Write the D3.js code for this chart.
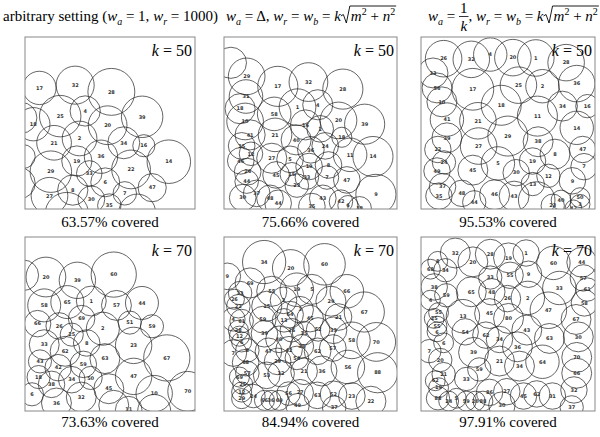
<!DOCTYPE html>
<html>
<head>
<meta charset="utf-8">
<script src="https://cdn.jsdelivr.net/npm/d3@7"></script>
<style>
  body { margin: 0; background: #fff; }
</style>
</head>
<body>
<svg id="fig" width="600" height="437"></svg>
<script>
// ---- data: [x, y, r, label] in a 0..100 field, y measured from the top ----
const captions = ['63.57% covered', '75.66% covered', '95.53% covered',
                  '73.63% covered', '84.94% covered', '97.91% covered'];
const kValues = [50, 50, 50, 70, 70, 70];

const circlesA50 = [
  [8.5,29.6,9.8,'17'],[29.5,28,11.2,'32'],[50.8,31.9,13.8,'28'],[4.9,50.7,9.8,'18'],
  [20.7,46,12.2,'25'],[35.4,43,8.9,'4'],[48.6,51.3,11.4,'20'],[68.9,46.4,12.2,'39'],
  [17.1,61.5,10.2,'21'],[32.1,59,10.2,'2'],[58.1,61.5,9.4,'34'],[69.9,63.2,6.5,'16'],
  [84.6,72.5,12.8,'14'],[-1,69.5,7,'1'],[15.2,78.3,12.2,'29'],[44.7,69.6,9.8,'36'],
  [30.5,72.1,8.9,'19'],[37.8,79.3,7.5,'33'],[62.4,77,11.4,'22'],[47.2,84.5,8.5,'6'],
  [74.8,87.6,8.3,'47'],[14.4,92.3,10.8,'27'],[28.1,89,8.9,'8'],[39,94.4,7.9,'30'],
  [58.7,90.9,6.9,'7'],[49.6,98,6.9,'35'],[24.6,103,12.8,''],[66,102,10.8,''],
  [-2,47,9,''],[-3,85,9,'']
];
const circlesB50 = [
  [13.1,22.9,10.6,'29'],[31.1,28.7,11.6,'17'],[48.8,26.2,11.2,'32'],[68.7,30.3,11.6,'28'],
  [12.7,34.6,9.7,'31'],[9.3,41.7,8.7,'18'],[29,44.7,9.7,'58'],[42.5,40.8,10.6,'1'],
  [54.2,39.4,8.7,'4'],[12.2,49.1,10.6,'10'],[66.2,48.5,10.6,'20'],[81.3,50.7,11.6,'39'],
  [47.1,51.1,8.7,'16'],[55.6,53.4,7.7,'2'],[15.1,56.9,8.7,'41'],[29.5,56.9,9.7,'21'],
  [68.1,58.3,5.8,'18'],[41.7,59.8,8.7,'40'],[10.2,63.3,7.7,'25'],[58.5,63.3,7.7,'24'],
  [15.6,67.9,6.8,'12'],[50.2,65.6,7.7,'36'],[72.9,68.5,9.7,'11'],[86.1,69.5,11.6,'14'],
  [9.7,72,7.7,'46'],[27.6,70.5,8.7,'27'],[38.2,71.1,7.7,'5'],[49.2,75.3,7.7,'19'],
  [60.4,74.4,7.7,'8'],[13.7,78.3,7.7,'26'],[30.1,80.2,7.7,'45'],[39.2,79.8,6.8,'15'],
  [47.9,81.7,6.8,'33'],[59.5,81.7,6.8,'7'],[71,83.1,7.7,'47'],[13.1,84.1,6.8,'44'],
  [42.1,86.4,6.8,'23'],[87.8,91.5,11.6,'9'],[18.9,90.9,7.7,'37'],[10.8,93.4,7.7,'30'],
  [26.6,93.8,7.7,'48'],[31.3,96.7,7.7,'44'],[50.8,98.6,7.7,'35'],[57.1,93.8,7.7,'43'],
  [67.6,95.7,6.8,'42'],[71.6,98,5.8,'6'],[78.4,99.6,6.8,'38'],[4,15,9,'']
];
const circlesC50 = [
  [13,12.6,10.5,'26'],[28.9,13,10.5,'32'],[39.8,10.2,9.6,'4'],[52.8,12,10.5,'20'],
  [66,12.2,10.5,'1'],[83.4,14.9,10.5,'28'],[6.9,20.9,8.6,'33'],[9.2,29.6,8.6,'56'],
  [29.8,30.4,12,'17'],[56,28,10.5,'25'],[69.8,28.6,9.6,'2'],[89.5,27.1,10.5,'36'],
  [12,37.7,8.6,'10'],[46.1,39.7,11.5,'18'],[81.3,40.2,8.6,'34'],[95.6,40.2,6.7,'16'],
  [14.9,48,9.6,'41'],[32.7,48.7,10.5,'21'],[66.9,46,11.5,'11'],[89.5,52.8,9.6,'14'],
  [14.9,58.6,8.6,'39'],[49.9,57.6,11.5,'29'],[67.3,60.9,8.6,'38'],[9.7,65.4,7.6,'22'],
  [33.1,63.4,10.5,'27'],[77,68.1,8.6,'8'],[92.9,65.4,7.6,'47'],[13.2,72.9,6.7,'24'],
  [64.1,72.1,7.6,'19'],[44.2,73.5,9.6,'5'],[93.7,75.4,7.6,'7'],[9.2,77.9,7.6,'49'],
  [29.8,77.4,8.6,'45'],[54.7,78.9,7.6,'30'],[73.2,80.7,6.7,'12'],[87,83.6,7.6,'9'],
  [64.2,85.5,6.7,'13'],[12.4,87,7.6,'37'],[10.3,92.5,7.6,'35'],[23.5,90.9,7.6,'48'],
  [30.6,96.1,6.7,'44'],[42.3,91.7,8.6,'46'],[53.5,92.5,8.6,'43'],[75.7,98.1,6.7,'23'],
  [80.5,94.8,5.7,'40'],[91.4,93.4,5.7,'50'],[91.4,97.3,5.7,'3'],[87.6,99.6,4.8,'42'],
  [66.5,94.8,10.5,'']
];
const circlesA70 = [
  [12.3,23,11.7,'20'],[30.8,24.9,10.7,'39'],[52.2,21.6,13.3,'60'],[11.3,39.3,9.7,'58'],
  [24.9,37.4,9.7,'65'],[39,36.8,8.8,'1'],[53.8,39.3,8.8,'57'],[68.8,37.9,9.7,'44'],
  [7.4,49.8,7.8,'66'],[33.3,46.9,7.8,'69'],[61.6,49.2,6.8,'51'],[74.7,51.3,6.8,'59'],
  [20.1,51.1,7.8,'26'],[27.5,56.1,6.8,'25'],[45.8,52.7,9.7,'2'],[11.3,61.9,8.8,'33'],
  [36.3,60.9,7.8,'8'],[63.9,62.3,10.7,'23'],[23.6,65.7,8.8,'62'],[83.4,69.5,13.6,'67'],
  [8.8,71.5,6.8,'43'],[19.5,75.1,7.8,'42'],[34.3,73.2,7.8,'59'],[47,69.9,8.8,'63'],
  [8,80.5,6.8,'18'],[27.5,82,7.8,'34'],[38.6,81,6.8,'50'],[63.9,80.1,10.7,'47'],
  [15.6,84.7,7.8,'38'],[49.3,87.2,8.8,'45'],[76,90,10.7,'10'],[95.7,88.7,11.7,'70'],
  [4.1,90.4,6.8,'6'],[18.5,95.4,8.8,'36'],[33.1,92,8.8,'32'],[61,99.2,7.8,'11'],
  [52.2,96.7,8.8,''],[76,100,9.7,''],[-1,22,9,'']
];
const circlesB70 = [
  [23.2,14.4,12.5,'34'],[38.6,17.8,10.6,'20'],[58.1,15.7,12,'60'],[1.9,22.6,7.7,'9'],
  [15.1,26.4,8.7,'69'],[42.1,30.3,9.7,'19'],[50.8,30.1,8.7,'5'],[71,31.2,9.7,'66'],
  [9.3,32.2,6.8,'33'],[27.6,31.2,8.7,'55'],[6,35.8,5.8,'26'],[61.8,36.9,8.7,'29'],
  [34.4,36.4,7.7,'2'],[8.3,39.8,6.8,'22'],[24.7,39.8,8.7,'15'],[44,41.8,7.7,'3'],
  [81.1,43.1,11.6,'67'],[38.2,44.6,7.7,'64'],[5.4,47.3,6.8,'4'],[10.2,48.3,6.8,'61'],
  [22.4,47.5,7.7,'59'],[34.7,47.9,6.8,'13'],[49.8,46.9,7.7,'45'],[66.2,46,7.7,'21'],
  [8.3,53.6,5.8,'28'],[23.4,55.6,7.7,'39'],[39.2,53.6,6.8,'26'],[54.4,53.1,6.8,'52'],
  [63.3,53.6,7.7,'33'],[8.9,57,5.8,'12'],[46.3,55.2,6.8,'35'],[73.9,59.4,10.6,'58'],
  [88,60.3,11.2,'70'],[10.2,60.3,5.8,'6'],[31.8,58.8,7.7,'40'],[5.4,66.7,7.7,'7'],
  [13.5,65.1,6.8,'8'],[25.7,65.7,7.7,'47'],[45,62.8,6.8,'38'],[37.6,64.8,7.7,'42'],
  [54.1,65.7,7.7,'62'],[62.9,63.8,7.7,'57'],[42.1,69.5,6.8,'54'],[12.5,72.2,7.7,'68'],
  [31,71.5,7.7,'29'],[71.6,74.7,9.7,'56'],[88.8,78,11.6,'88'],[13.5,78.2,6.8,'57'],
  [24.7,79.5,7.7,'53'],[33,78.5,7.7,'32'],[46.3,77.2,7.7,'21'],[56.6,77,8.7,'36'],
  [8.9,80.5,5.8,'69'],[10.8,84.7,5.8,'25'],[10.2,89.1,5.8,'12'],[10.2,92.9,5.8,'29'],
  [17,91.4,6.8,'24'],[23.4,93.9,5.8,'66'],[27.2,93.9,5.8,'36'],[31.9,93.9,5.8,'69'],
  [37.3,90,6.8,'56'],[44,89.5,7.7,'27'],[42.5,96.7,6.8,'49'],[54,91,7.7,'63'],
  [63.3,90.4,7.7,'52'],[73.9,91.4,7.7,'23'],[63.7,98.1,6.8,'37'],[84.9,94.4,8.7,'22']
];
const circlesC70 = [
  [19.7,9.2,8.6,'32'],[9.6,14,5.7,'8'],[5.4,18.5,5.7,'68'],[14,19.1,6.7,'34'],
  [29.8,14.3,8.6,'20'],[39.8,9.9,8.6,'28'],[50.3,12,8.6,'19'],[60.4,9.2,7.6,'1'],
  [76.1,14.9,9.6,'60'],[92.4,14.5,8.6,'44'],[39.8,23.3,6.7,'33'],[51.2,22,7.6,'55'],
  [61.8,21.4,7.6,'9'],[93.3,23.5,7.6,'57'],[7.6,28.7,7.6,'38'],[14.5,33.5,6.7,'59'],
  [28.9,31.5,8.6,'65'],[40.7,31.5,7.6,'48'],[79.5,29.3,9.6,'33'],[95.6,30.2,6.7,'61'],
  [49.7,35.4,7.6,'26'],[61.4,35,9.6,'2'],[93.9,37.9,7.6,'58'],[5.4,36.3,5.7,'4'],
  [24.1,45.5,9.6,'13'],[39.4,44,8.6,'45'],[73.2,42.1,10.5,'47'],[10.1,43.4,5.7,'55'],
  [7.6,46.8,5.7,'25'],[50.3,46.8,8.6,'80'],[89.1,47.4,8.6,'67'],[9.2,51.2,5.7,'55'],
  [9.2,54.5,5.7,'6'],[25.4,54.5,7.6,'54'],[60.8,53.5,8.6,'43'],[73.8,58.3,8.6,'63'],
  [90.4,57.4,8.6,'30'],[37.3,56.4,7.6,'62'],[45.1,58.9,7.6,'34'],[13,60.8,5.7,'6'],
  [55.4,63.1,8.6,'36'],[4.8,65.6,6.7,'7'],[11.1,70.7,6.7,'20'],[30.2,66.3,8.6,'39'],
  [45.1,71.3,8.6,'21'],[56.6,74.2,8.6,'34'],[69.8,71.7,9.6,'64'],[89.5,69.2,8.6,'70'],
  [33.5,76.1,6.7,'59'],[13,78.8,6.7,'21'],[89.5,78.3,8.6,'66'],[26,81.6,6.7,'33'],
  [8.2,82.6,5.7,'62'],[10.1,86.6,5.7,'19'],[9.75,92.7,6.7,'88'],[15.9,94.3,5.7,'24'],
  [20.3,92.7,5.7,'5'],[26,94.3,5.7,'59'],[31.2,94.3,5.7,'20'],[35.6,94.3,5.7,'88'],
  [39.4,89.3,7.6,'86'],[46.5,96.6,7.6,'30'],[49.3,88.9,7.6,'27'],[58.9,91.4,7.6,'45'],
  [66.5,90.2,7.6,'62'],[75.5,91.4,7.6,'31'],[87.9,87.9,7.6,'32'],[86.6,97.9,6.7,'37']
];

const panels = [circlesA50, circlesB50, circlesC50, circlesA70, circlesB70, circlesC70];

const SERIF = '"Liberation Serif", "Times New Roman", serif';
const svg = d3.select('#fig');

// panel frames (pixels)
const colLeft = [25, 224, 421];
const colWidth = [170, 173, 174];
const rowTop = [37, 237];
const rowHeight = [172, 174];
const captionY = [227, 427];

panels.forEach((circles, i) => {
  const col = i % 3, row = Math.floor(i / 3);
  const x0 = colLeft[col], y0 = rowTop[row], w = colWidth[col], h = rowHeight[row];
  const x = d3.scaleLinear().domain([0, 100]).range([x0, x0 + w]);
  const y = d3.scaleLinear().domain([0, 100]).range([y0, y0 + h]);
  const r = d3.scaleLinear().domain([0, 100]).range([0, w]);

  svg.append('clipPath').attr('id', 'clip' + i)
    .append('rect').attr('x', x0).attr('y', y0).attr('width', w).attr('height', h);

  const g = svg.append('g').attr('clip-path', `url(#clip${i})`);
  g.selectAll('circle')
    .data(circles)
    .join('circle')
    .attr('cx', d => x(d[0]))
    .attr('cy', d => y(d[1]))
    .attr('r', d => r(d[2]))
    .attr('fill', 'none')
    .attr('stroke', '#222')
    .attr('stroke-width', 0.7);

  g.selectAll('text')
    .data(circles.filter(d => d[3]))
    .join('text')
    .attr('x', d => x(d[0]))
    .attr('y', d => y(d[1]))
    .attr('dy', '0.35em')
    .attr('text-anchor', 'middle')
    .attr('font-family', '"DejaVu Sans", sans-serif')
    .attr('font-weight', 'bold')
    .attr('font-size', 5)
    .attr('fill', '#333')
    .text(d => d[3]);

  svg.append('rect')
    .attr('x', x0).attr('y', y0).attr('width', w).attr('height', h)
    .attr('fill', 'none').attr('stroke', '#888').attr('stroke-width', 1);

  const kl = svg.append('text')
    .attr('x', x0 + w - 3).attr('y', y0 + 19)
    .attr('text-anchor', 'end')
    .attr('font-family', SERIF).attr('font-size', 16)
    .style('white-space', 'pre');
  kl.append('tspan').attr('font-style', 'italic').text('k');
  kl.append('tspan').text(' = ' + kValues[i]);

  svg.append('text')
    .attr('x', x0 + w / 2).attr('y', captionY[row])
    .attr('text-anchor', 'middle')
    .attr('font-family', SERIF).attr('font-size', 15)
    .text(captions[i]);
});

// ---- formula titles ----
const FS = 15, SUB = 10;
const T = (s, it) => ({ t: 'text', s, it });
const sub = s => ({ t: 'sub', s });
const sup = s => ({ t: 'sup', s });
const sqrtMN = { t: 'sqrt', items: [T('m', 1), sup('2'), T(' + '), T('n', 1), sup('2')] };

function run(g, items, cx, base) {
  items.forEach(it => {
    if (it.t === 'text' || it.t === 'sub' || it.t === 'sup') {
      const size = it.t === 'text' ? FS : SUB;
      const yy = it.t === 'sub' ? base + 3.5 : it.t === 'sup' ? base - 6 : base;
      const el = g.append('text')
        .attr('x', cx).attr('y', yy)
        .attr('font-size', size)
        .attr('font-style', it.t === 'text' && !it.it ? 'normal' : (it.t === 'sup' ? 'normal' : 'italic'))
        .style('white-space', 'pre')
        .text(it.s);
      cx += el.node().getComputedTextLength();
    } else if (it.t === 'sqrt') {
      const sx = cx;
      cx = run(g, it.items, cx + 10, base) + 1;
      g.append('path')
        .attr('d', `M${sx},${base - 5} L${sx + 2.5},${base - 6.5} L${sx + 5.5},${base + 2} L${sx + 9},${base - 15} L${cx},${base - 15}`)
        .attr('fill', 'none').attr('stroke', '#000').attr('stroke-width', 0.9);
    } else if (it.t === 'frac') {
      const num = g.append('text').attr('y', base - 8).attr('font-size', FS).attr('text-anchor', 'middle').text(it.num);
      const den = g.append('text').attr('y', base + 10).attr('font-size', FS).attr('font-style', 'italic').attr('text-anchor', 'middle').text(it.den);
      const wd = Math.max(num.node().getComputedTextLength(), den.node().getComputedTextLength()) + 2;
      num.attr('x', cx + wd / 2); den.attr('x', cx + wd / 2);
      g.append('line').attr('x1', cx).attr('x2', cx + wd)
        .attr('y1', base - 4.5).attr('y2', base - 4.5)
        .attr('stroke', '#000').attr('stroke-width', 0.8);
      cx += wd;
    }
  });
  return cx;
}

const titleBase = 21;
const title1 = [T('arbitrary setting ('), T('w', 1), sub('a'), T(' = 1, '), T('w', 1), sub('r'), T(' = 1000)')];
const title2 = [T('w', 1), sub('a'), T(' = \u0394, '), T('w', 1), sub('r'), T(' = '), T('w', 1), sub('b'), T(' = '), T('k', 1), sqrtMN];
const title3 = [T('w', 1), sub('a'), T(' = '), { t: 'frac', num: '1', den: 'k' }, T(', '), T('w', 1), sub('r'), T(' = '), T('w', 1), sub('b'), T(' = '), T('k', 1), sqrtMN];
const titleX = [3, 226, 428];

[title1, title2, title3].forEach((items, i) => {
  const g = svg.append('g').attr('font-family', SERIF).attr('fill', '#000');
  run(g, items, titleX[i], titleBase);
});
</script>
</body>
</html>
